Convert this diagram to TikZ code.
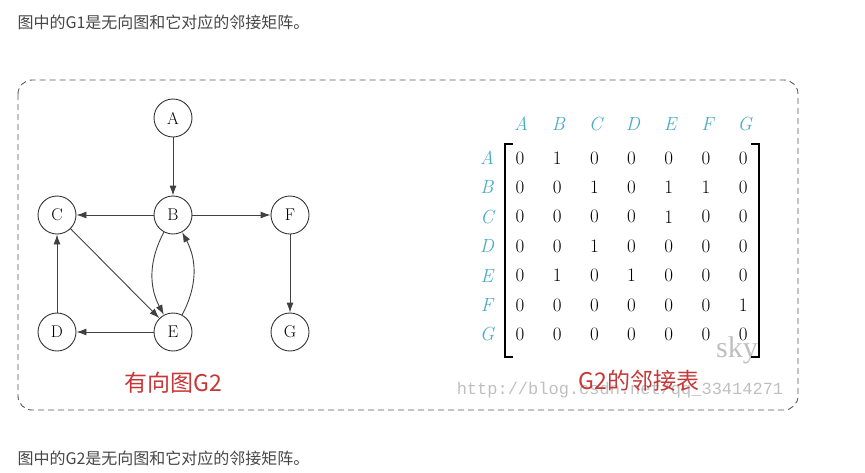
\documentclass[tikz,border=0pt]{standalone}
\usepackage{fontspec}
\newfontfamily\cjk{Noto Sans CJK SC}
\newfontfamily\wmfont{Liberation Mono}
\newfontfamily\wmserif{Liberation Serif}
\usetikzlibrary{arrows.meta}
\definecolor{headcyan}{RGB}{72,172,200}
\definecolor{capred}{RGB}{200,55,55}
\definecolor{notegray}{RGB}{70,70,70}
\begin{document}
\begin{tikzpicture}
[x=1pt,y=-1pt,>={Latex[length=10pt,width=7pt]},
 vertex/.style={circle,draw=black!80,line width=0.9pt,minimum size=38pt,inner sep=0pt,font=\fontsize{17}{17}\selectfont},
 edge/.style={->,draw=black!75,line width=0.9pt},
 hdr/.style={text=headcyan,font=\fontsize{19}{19}\selectfont\itshape},
 entry/.style={font=\fontsize{19}{19}\selectfont},
 caption/.style={text=capred,font=\cjk\fontsize{23}{23}\selectfont},
 note/.style={anchor=west,text=notegray,font=\cjk\fontsize{16}{16}\selectfont},
 mark text/.style={text=black!25}]
\useasboundingbox (0,0) rectangle (865,472);
\node[note] (top) at (14,22) {图中的G1是无向图和它对应的邻接矩阵。};
\node[note] (bottom) at (14,458) {图中的G2是无向图和它对应的邻接矩阵。};
\draw[draw=black!65,line width=0.9pt,dash pattern=on 6pt off 4pt,rounded corners=14pt] (18,80) rectangle (798,410);
% graph
\foreach \n/\x/\y in {A/173/118,B/173/215,C/57/215,F/290/215,D/57/332,E/173/332,G/290/332}
{
  \node[vertex] (\n) at (\x,\y) {\n};
}
\draw[edge] (A) -- (B);
\draw[edge] (B) -- (C);
\draw[edge] (B) -- (F);
\draw[edge] (F) -- (G);
\draw[edge] (C) -- (E);
\draw[edge] (D) -- (C);
\draw[edge] (E) -- (D);
\draw[edge] (B) to[bend right=28] (E);
\draw[edge] (E) to[bend right=28] (B);
\node[caption] (gcap) at (173,383) {有向图G2};
% matrix
\node[mark text,font=\wmserif\fontsize{30}{30}\selectfont] (sky) at (737,350) {sky};
\node[mark text,font=\wmfont\fontsize{17}{17}\selectfont] (url) at (620,390) {http://blog.csdn.net/qq\_33414271};
\foreach \c [count=\i] in {A,B,C,D,E,F,G}
{
  \node[hdr] (col\c) at ({521+37.3*(\i-1)},124) {\c};
  \node[hdr] (row\c) at (487,{158+29.4*(\i-1)}) {\c};
}
\foreach \row [count=\i] in {{0,1,0,0,0,0,0},{0,0,1,0,1,1,0},{0,0,0,0,1,0,0},{0,0,1,0,0,0,0},{0,1,0,1,0,0,0},{0,0,0,0,0,0,1},{0,0,0,0,0,0,0}}
{
  \foreach \v [count=\j] in \row
    \node[entry] (m\i\j) at ({520+37.2*(\j-1)},{158+29.4*(\i-1)}) {\v};
}
\draw[line width=1.6pt] (513,144) -| (505,357) -- (513,357);
\draw[line width=1.6pt] (751,144) -| (759,357) -- (751,357);
\node[caption] (mcap) at (639,381) {G2的邻接表};
\end{tikzpicture}
\end{document}
